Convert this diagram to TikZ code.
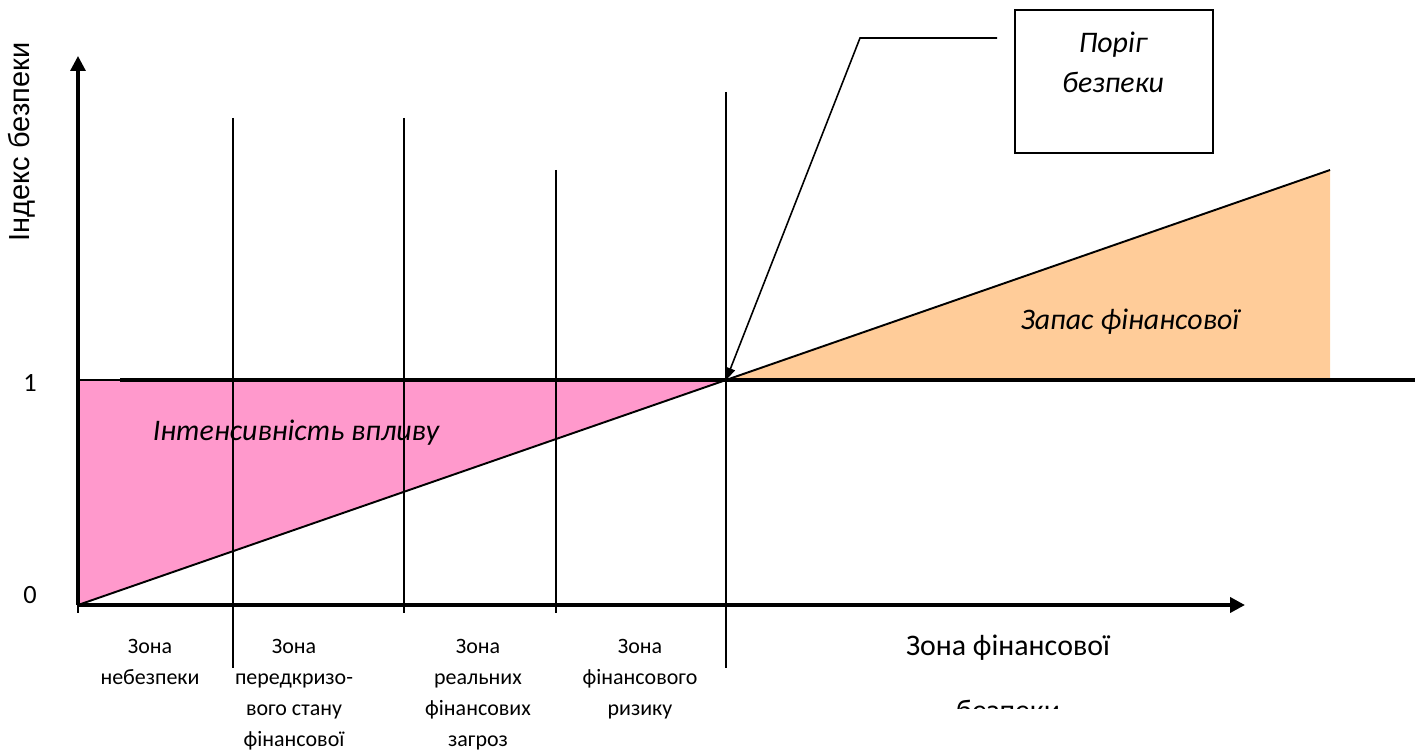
\documentclass[tikz,border=0pt]{standalone}
\usepackage{fontspec}
\setmainfont{Carlito}
\newfontfamily\axisfont{Liberation Sans}
\usetikzlibrary{positioning,arrows.meta}

\definecolor{dangerpink}{RGB}{255,153,204}
\definecolor{reservetan}{RGB}{255,204,153}

\begin{document}
\begin{tikzpicture}[x=0.02cm,y=-0.02cm,
  axis/.style={-{Triangle[length=8.5pt,width=8.5pt]}},
  zoneline/.style={line width=0.7pt},
  zonelabel/.style={font=\fontsize{12.5}{17.6}\selectfont,align=center,anchor=north,inner sep=0pt},
  areatext/.style={font=\fontsize{17}{22.7}\selectfont\itshape}]
\useasboundingbox (0,0) rectangle (1415,753);

% key points
\coordinate (O)    at (78,605);
\coordinate (ytop) at (78,56);
\coordinate (xend) at (1245,605);
\coordinate (yone) at (78,380);
\coordinate (T)    at (726,380);
\coordinate (peak) at (1330,170);
\coordinate (foot) at (1330,380);

% areas
\fill[dangerpink] (yone) -- (T) -- (O) -- cycle;
\draw[zoneline] (yone) -- (T);
\fill[reservetan] (T) -- (peak) -- (foot) -- cycle;
\draw[line width=1.1pt] (O) -- (T) -- (peak);
\draw[line width=2.3pt] (120,380) -- (1415,380);

% zone borders
\foreach \x/\ya/\yb in {233/118/668, 404/118/613, 556/170/613, 726/92/668}
  \draw[zoneline] (\x,\ya) -- (\x,\yb);
\draw[zoneline] (O) -- (78,613);

% axes
\draw[axis,line width=1.8pt] (O) -- (ytop);
\draw[axis,line width=2.3pt] (O) -- (xend);

\node[font=\fontsize{15}{18}\selectfont] (one)  at (30,383) {1};
\node[font=\fontsize{15}{18}\selectfont] (zero) at (30,595) {0};
\node[rotate=90,font=\axisfont\fontsize{16.5}{19}\selectfont] (ylab) at (22,142) {Індекс безпеки};

% zones under the axis
\node[zonelabel] (z1) at (150,639) {Зона\\небезпеки};
\node[zonelabel] (z2) at (294,639) {Зона\\передкризо-\\вого стану\\фінансової};
\node[zonelabel] (z3) at (478,639) {Зона\\реальних\\фінансових\\загроз};
\node[zonelabel] (z4) at (640,639) {Зона\\фінансового\\ризику};
\node[font=\fontsize{17}{20}\selectfont] (safe) at (1008,648) {Зона фінансової};
\begin{scope}
  \clip (850,690) rectangle (1200,708);
  \node[font=\fontsize{17}{20}\selectfont,anchor=base] (safe2) at (1008,720) {безпеки};
\end{scope}

% area texts
\node[areatext] (intens)  at (296,433) {Інтенсивність впливу};
\node[areatext] (reserve) at (1130,322) {Запас фінансової};

% threshold callout
\node[draw,line width=0.8pt,minimum width=3.96cm,minimum height=2.86cm] (thr) at (1114,81.5) {};
\node[areatext,align=center] (thrtext) at (1113,62) {Поріг\\безпеки};
\coordinate (lead) at (997,38);
\coordinate (bend) at (860,38);
\draw[line width=0.9pt,-{Triangle[length=7pt,width=5.5pt]}] (lead) -- (bend) -- (T);
\end{tikzpicture}
\end{document}
